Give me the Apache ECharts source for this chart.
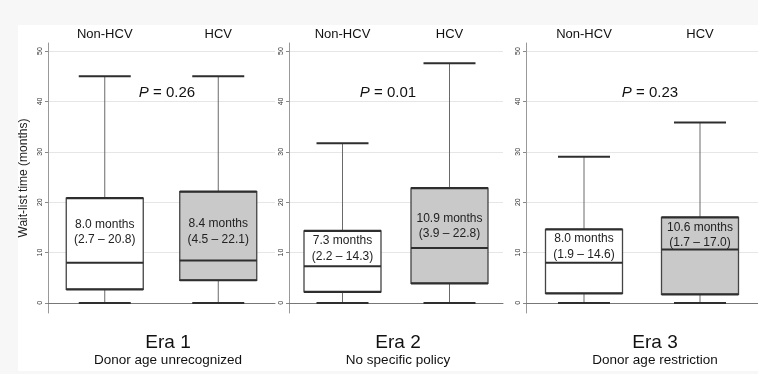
<!DOCTYPE html>
<html>
<head>
<meta charset="utf-8">
<script src="https://cdn.jsdelivr.net/npm/echarts@6/dist/echarts.min.js"></script>
<style>html,body{margin:0;padding:0;background:#f7f7f7;}#c{width:758px;height:374px;}</style>
</head>
<body>
<div id="c"></div>
<script>
const categories = ['Non-HCV', 'HCV'];
const eras = ['Era 1', 'Era 2', 'Era 3'];
const eraSubtitles = ['Donor age unrecognized', 'No specific policy', 'Donor age restriction'];
const pValues = ['0.26', '0.01', '0.23'];
// [min, q1, median, q3, max] per era: Non-HCV, HCV
const era1Boxes = [[0, 2.7, 8.0, 20.8, 45.0], [0, 4.5, 8.4, 22.1, 45.0]];
const era2Boxes = [[0, 2.2, 7.3, 14.3, 31.7], [0, 3.9, 10.9, 22.8, 47.6]];
const era3Boxes = [[0, 1.9, 8.0, 14.6, 29.0], [0, 1.7, 10.6, 17.0, 35.8]];
const yTicks = [0, 10, 20, 30, 40, 50];
const allBoxes = [era1Boxes, era2Boxes, era3Boxes];

// layout (pixels)
const grids = [
  {left: 48, width: 227}, {left: 289, width: 214}, {left: 526, width: 232}
];
const gridTop = 43, gridHeight = 270;
const labelOffsets = [[34, 40], [17.5, 38], [17, 17.5]];
const pCenters = [162, 383, 645];
const eraCenters = [163, 393, 650];

const chart = echarts.init(document.getElementById('c'), null, {renderer: 'canvas'});

function makeRender(eraIdx) {
  return function (params, api) {
    const ci = api.value(0);
    const mn = api.value(1), q1 = api.value(2), md = api.value(3), q3 = api.value(4), mx = api.value(5);
    const half = 38.5;
    const capHalf = 26;
    const pMin = api.coord([ci, mn]), pQ1 = api.coord([ci, q1]), pMd = api.coord([ci, md]),
          pQ3 = api.coord([ci, q3]), pMx = api.coord([ci, mx]);
    const cx = pMd[0];
    const fill = ci === 0 ? '#ffffff' : '#c9c9c9';
    const dark = '#2e2e2e';
    const m = allBoxes[eraIdx][ci];
    const lblY = pQ3[1] + labelOffsets[eraIdx][ci];
    return {
      type: 'group',
      children: [
        {type: 'line', shape: {x1: cx, y1: pMx[1], x2: cx, y2: pQ3[1]}, style: {stroke: '#6a6a6a', lineWidth: 1}},
        {type: 'line', shape: {x1: cx, y1: pQ1[1], x2: cx, y2: pMin[1]}, style: {stroke: '#6a6a6a', lineWidth: 1}},
        {type: 'line', shape: {x1: cx - capHalf, y1: pMx[1], x2: cx + capHalf, y2: pMx[1]}, style: {stroke: dark, lineWidth: 2}},
        {type: 'line', shape: {x1: cx - capHalf, y1: pMin[1], x2: cx + capHalf, y2: pMin[1]}, style: {stroke: dark, lineWidth: 2}},
        {type: 'rect', shape: {x: cx - half, y: pQ3[1], width: 2 * half, height: pQ1[1] - pQ3[1]}, style: {fill: fill, stroke: '#444', lineWidth: 1.3}},
        {type: 'line', shape: {x1: cx - half, y1: pQ3[1], x2: cx + half, y2: pQ3[1]}, style: {stroke: dark, lineWidth: 2.2}},
        {type: 'line', shape: {x1: cx - half, y1: pQ1[1], x2: cx + half, y2: pQ1[1]}, style: {stroke: dark, lineWidth: 2.2}},
        {type: 'line', shape: {x1: cx - half, y1: pMd[1], x2: cx + half, y2: pMd[1]}, style: {stroke: dark, lineWidth: 2}},
        {type: 'text', x: cx, y: lblY - 7.5, style: {text: m[2].toFixed(1) + ' months', fill: '#222', font: '12px "Liberation Sans", Arial, sans-serif', textAlign: 'center', textVerticalAlign: 'middle'}},
        {type: 'text', x: cx, y: lblY + 8, style: {text: '(' + m[1].toFixed(1) + ' \u2013 ' + m[3].toFixed(1) + ')', fill: '#222', font: '12px "Liberation Sans", Arial, sans-serif', textAlign: 'center', textVerticalAlign: 'middle'}}
      ]
    };
  };
}

const option = {
  backgroundColor: '#f7f7f7',
  animation: false,
  graphic: [
    {type: 'rect', left: 18, top: 25, shape: {width: 740, height: 346}, style: {fill: '#ffffff'}, z: -10, silent: true}
  ],
  title: [],
  grid: [],
  xAxis: [],
  yAxis: [],
  series: []
};

grids.forEach((g, i) => {
  option.grid.push({left: g.left, width: g.width, top: gridTop, height: gridHeight});
  option.xAxis.push({
    type: 'category', gridIndex: i, data: categories, position: 'bottom',
    axisLine: {show: true, lineStyle: {color: '#777', width: 1}},
    axisTick: {show: false}, axisLabel: {show: false}, splitLine: {show: false}
  });
  option.xAxis.push({
    type: 'category', gridIndex: i, data: categories, position: 'top',
    axisLine: {show: false}, axisTick: {show: false},
    axisLabel: {show: true, margin: 2, fontSize: 13, color: '#111', fontFamily: '"Liberation Sans", Arial, sans-serif'}
  });
  option.yAxis.push({
    type: 'value', gridIndex: i, min: -2, max: 51.6,
    name: i === 0 ? 'Wait-list time (months)' : '',
    nameLocation: 'middle', nameGap: 18,
    nameTextStyle: {fontSize: 12, color: '#222', fontFamily: '"Liberation Sans", Arial, sans-serif'},
    axisLine: {show: true, lineStyle: {color: '#999', width: 1}},
    axisTick: {show: true, length: 3, lineStyle: {color: '#888'}, customValues: yTicks},
    axisLabel: {show: true, rotate: 90, fontSize: 7, color: '#333', margin: 4, customValues: yTicks},
    splitLine: {show: true, lineStyle: {color: '#e6e6e6', width: 1}}
  });
  option.series.push({
    type: 'custom', xAxisIndex: i * 2, yAxisIndex: i,
    renderItem: makeRender(i),
    encode: {x: 0, y: [1, 2, 3, 4, 5]},
    data: allBoxes[i].map((b, ci) => [ci].concat(b)),
    clip: false
  });
  option.title.push({
    text: '{i|P} = ' + pValues[i], left: pCenters[i], top: 80, textAlign: 'center',
    textStyle: {fontSize: 15, fontWeight: 'normal', color: '#111', fontFamily: '"Liberation Sans", Arial, sans-serif',
      rich: {i: {fontStyle: 'italic', fontSize: 15, color: '#111', fontFamily: '"Liberation Sans", Arial, sans-serif'}}}
  });
  option.title.push({
    text: eras[i], subtext: eraSubtitles[i], left: eraCenters[i], top: 328, textAlign: 'center', itemGap: 1,
    textStyle: {fontSize: 19, fontWeight: 'normal', color: '#111', fontFamily: '"Liberation Sans", Arial, sans-serif'},
    subtextStyle: {fontSize: 13.5, color: '#111', fontFamily: '"Liberation Sans", Arial, sans-serif'}
  });
});

chart.setOption(option);
</script>
</body>
</html>
